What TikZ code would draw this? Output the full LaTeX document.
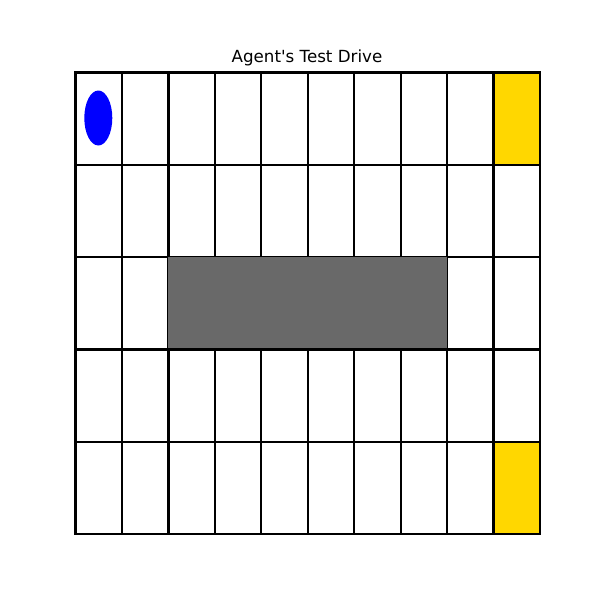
\documentclass[tikz,border=0pt]{standalone}
\usepackage{fontspec}
\setmainfont{DejaVu Sans}[Ligatures=TeXReset]
\definecolor{goldcell}{RGB}{255,215,0}
\definecolor{wallgray}{RGB}{105,105,105}

\begin{document}
\begin{tikzpicture}[x=1pt,y=-1pt]

    \useasboundingbox (0,0) rectangle (600,600);

    % Title
    \node (title) at (307,58) {\fontsize{16.7}{20}\selectfont Agent's Test Drive};

    % Goal cells
    \fill[goldcell] (493.5,72.5) rectangle (540,164.9);
    \fill[goldcell] (493.5,441.6) rectangle (540,534);

    % Grid (10 x 5 cells)
    \foreach \i in {0,...,9}
        \foreach \j in {0,...,4}
            \draw[line width=2.2] (75.5+46.45*\i,72.5+92.3*\j) rectangle ++(46.45,92.3);

    % Wall block
    \fill[wallgray] (168.4,257) rectangle (447,348.3);

    % Agent
    \fill[blue] (98.3,118) ellipse (14 and 27.5);

    \end{tikzpicture}
\end{document}
